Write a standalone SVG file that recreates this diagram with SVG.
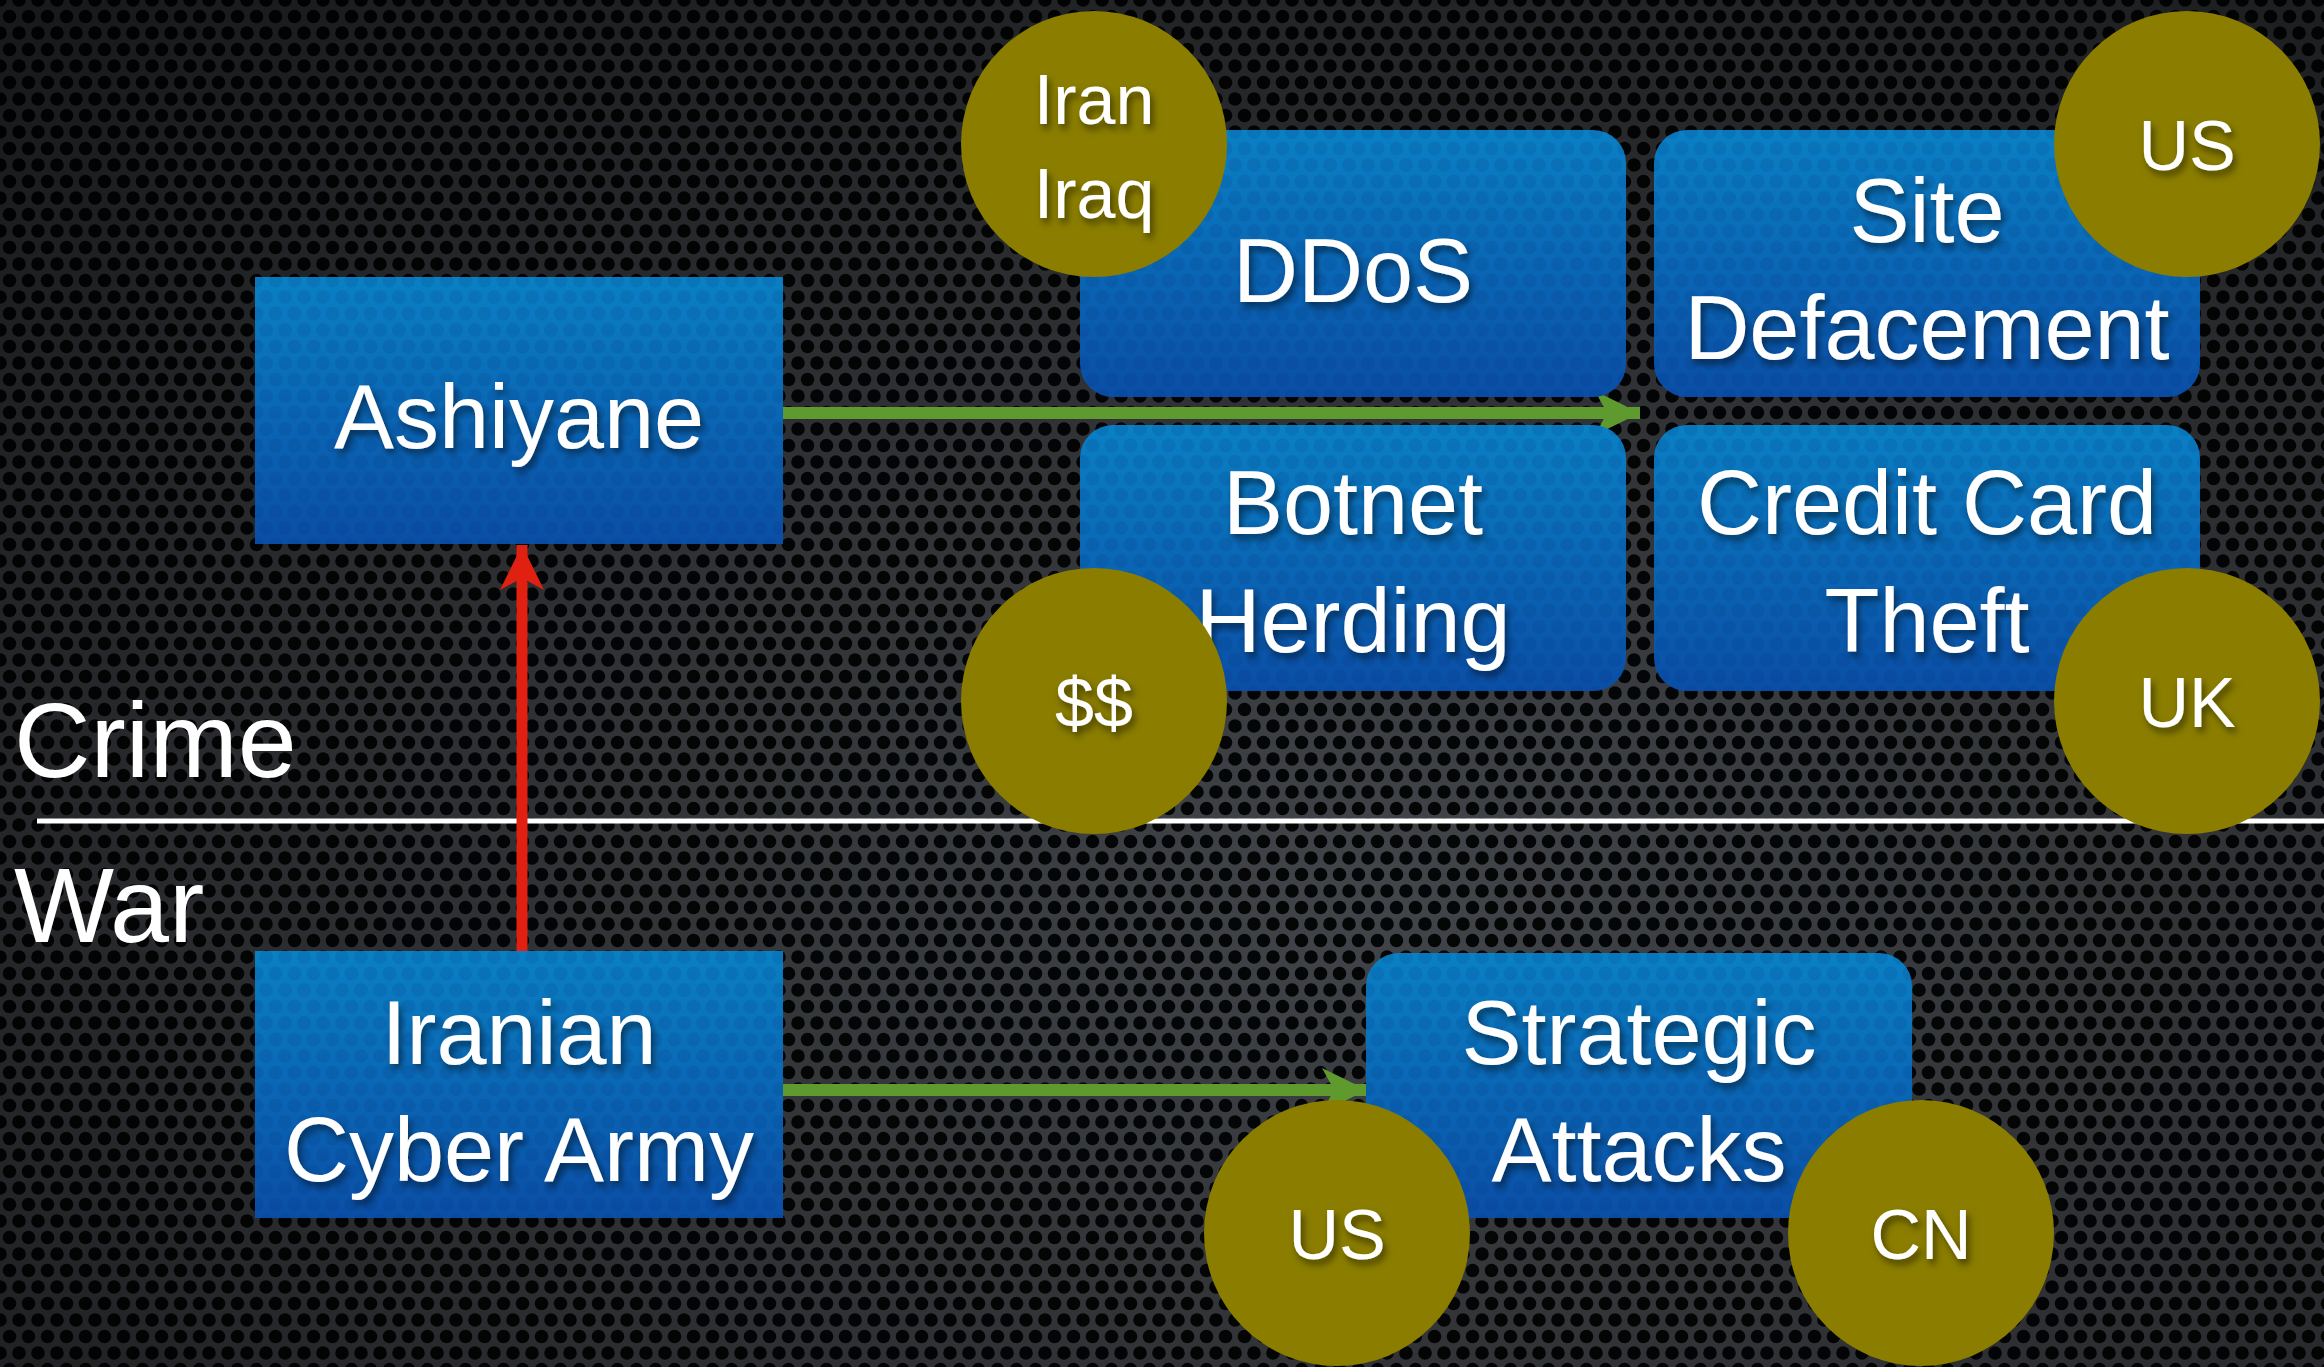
<svg xmlns="http://www.w3.org/2000/svg" width="2324" height="1367" viewBox="0 0 2324 1367">
<defs>
<pattern id="mesh" width="19" height="33" patternUnits="userSpaceOnUse">
<rect width="19" height="33" fill="#45484d"/>
<circle cx="0" cy="0" r="6.8" fill="#050607"/>
<circle cx="19" cy="0" r="6.8" fill="#050607"/>
<circle cx="0" cy="33" r="6.8" fill="#050607"/>
<circle cx="19" cy="33" r="6.8" fill="#050607"/>
<circle cx="9.5" cy="16.5" r="6.8" fill="#050607"/>
</pattern>
<radialGradient id="vig" cx="0.6" cy="0.65" r="0.85">
<stop offset="0" stop-color="#000" stop-opacity="0.05"/>
<stop offset="1" stop-color="#000" stop-opacity="0.65"/>
</radialGradient>
<linearGradient id="boxg" x1="0" y1="0" x2="0" y2="1">
<stop offset="0" stop-color="#0a80c4"/>
<stop offset="1" stop-color="#0a4ea6"/>
</linearGradient>
<pattern id="boxdots" width="19" height="33" patternUnits="userSpaceOnUse">
<circle cx="0" cy="0" r="7" fill="#002a70"/>
<circle cx="19" cy="0" r="7" fill="#002a70"/>
<circle cx="0" cy="33" r="7" fill="#002a70"/>
<circle cx="19" cy="33" r="7" fill="#002a70"/>
<circle cx="9.5" cy="16.5" r="7" fill="#002a70"/>
</pattern>
<filter id="ts" x="-20%" y="-20%" width="140%" height="150%">
<feDropShadow dx="3" dy="5" stdDeviation="3.5" flood-color="#000" flood-opacity="0.5"/>
</filter>
<marker id="gh" markerWidth="45" markerHeight="44" refX="45" refY="22" markerUnits="userSpaceOnUse" orient="auto">
<path d="M0,0 L45,22 L0,44 L12,22 Z" fill="#5f9a2e"/>
</marker>
<marker id="rh" markerWidth="45" markerHeight="44" refX="45" refY="22" markerUnits="userSpaceOnUse" orient="auto">
<path d="M0,0 L45,22 L0,44 L12,22 Z" fill="#e02010"/>
</marker>
<style>
.box{fill:url(#boxg);}
.dots{fill:url(#boxdots);opacity:0.12;}
.circ{fill:#8a7d00;}
.t{font-family:"Liberation Sans",Arial,sans-serif;fill:#fff;text-anchor:middle;filter:url(#ts);}
.big{font-size:90px;}
.sm{font-size:70px;}
.side{font-family:"Liberation Sans",Arial,sans-serif;fill:#fff;font-size:106px;}
</style>
</defs>
<rect width="2324" height="1367" fill="url(#mesh)"/>
<rect width="2324" height="1367" fill="url(#vig)"/>

<g id="divider">
<line x1="37" y1="821" x2="2324" y2="821" stroke="#fff" stroke-width="5"/>
<text class="side" x="14" y="777">Crime</text>
<text class="side" x="14" y="942">War</text>
</g>

<g id="connectors">
<line x1="783" y1="413" x2="1640" y2="413" stroke="#5f9a2e" stroke-width="12" marker-end="url(#gh)"/>
<line x1="783" y1="1090" x2="1367" y2="1090" stroke="#5f9a2e" stroke-width="12" marker-end="url(#gh)"/>
<line x1="522" y1="951" x2="522" y2="545" stroke="#e02010" stroke-width="11" marker-end="url(#rh)"/>
</g>

<g id="ashiyane">
<rect class="box" x="255" y="277" width="528" height="267"/>
<rect class="dots" x="255" y="277" width="528" height="267"/>
<text class="t big" x="519" y="448">Ashiyane</text>
</g>

<g id="iranian-cyber-army">
<rect class="box" x="255" y="951" width="528" height="267"/>
<rect class="dots" x="255" y="951" width="528" height="267"/>
<text class="t big" x="519" y="1064">Iranian</text>
<text class="t big" x="519" y="1181">Cyber Army</text>
</g>

<g id="ddos">
<rect class="box" x="1080" y="130" width="546" height="267" rx="33"/>
<rect class="dots" x="1080" y="130" width="546" height="267" rx="33"/>
<text class="t big" x="1353" y="302">DDoS</text>
</g>

<g id="site-defacement">
<rect class="box" x="1654" y="130" width="546" height="267" rx="33"/>
<rect class="dots" x="1654" y="130" width="546" height="267" rx="33"/>
<text class="t big" x="1927" y="242">Site</text>
<text class="t big" x="1927" y="359">Defacement</text>
</g>

<g id="botnet-herding">
<rect class="box" x="1080" y="425" width="546" height="266" rx="33"/>
<rect class="dots" x="1080" y="425" width="546" height="266" rx="33"/>
<text class="t big" x="1353" y="534">Botnet</text>
<text class="t big" x="1353" y="652">Herding</text>
</g>

<g id="credit-card-theft">
<rect class="box" x="1654" y="425" width="546" height="266" rx="33"/>
<rect class="dots" x="1654" y="425" width="546" height="266" rx="33"/>
<text class="t big" x="1927" y="534">Credit Card</text>
<text class="t big" x="1927" y="652">Theft</text>
</g>

<g id="strategic-attacks">
<rect class="box" x="1366" y="953" width="546" height="265" rx="33"/>
<rect class="dots" x="1366" y="953" width="546" height="265" rx="33"/>
<text class="t big" x="1639" y="1064">Strategic</text>
<text class="t big" x="1639" y="1181">Attacks</text>
</g>

<g id="iran-iraq">
<circle class="circ" cx="1094" cy="144" r="133"/>
<text class="t sm" x="1094" y="124">Iran</text>
<text class="t sm" x="1094" y="218">Iraq</text>
</g>
<g id="us-top">
<circle class="circ" cx="2187" cy="144" r="133"/>
<text class="t sm" x="2187" y="170">US</text>
</g>
<g id="money">
<circle class="circ" cx="1094" cy="701" r="133"/>
<text class="t sm" x="1094" y="727">$$</text>
</g>
<g id="uk">
<circle class="circ" cx="2187" cy="701" r="133"/>
<text class="t sm" x="2187" y="727">UK</text>
</g>
<g id="us-bottom">
<circle class="circ" cx="1337" cy="1233" r="133"/>
<text class="t sm" x="1337" y="1259">US</text>
</g>
<g id="cn">
<circle class="circ" cx="1921" cy="1233" r="133"/>
<text class="t sm" x="1921" y="1259">CN</text>
</g>
</svg>
